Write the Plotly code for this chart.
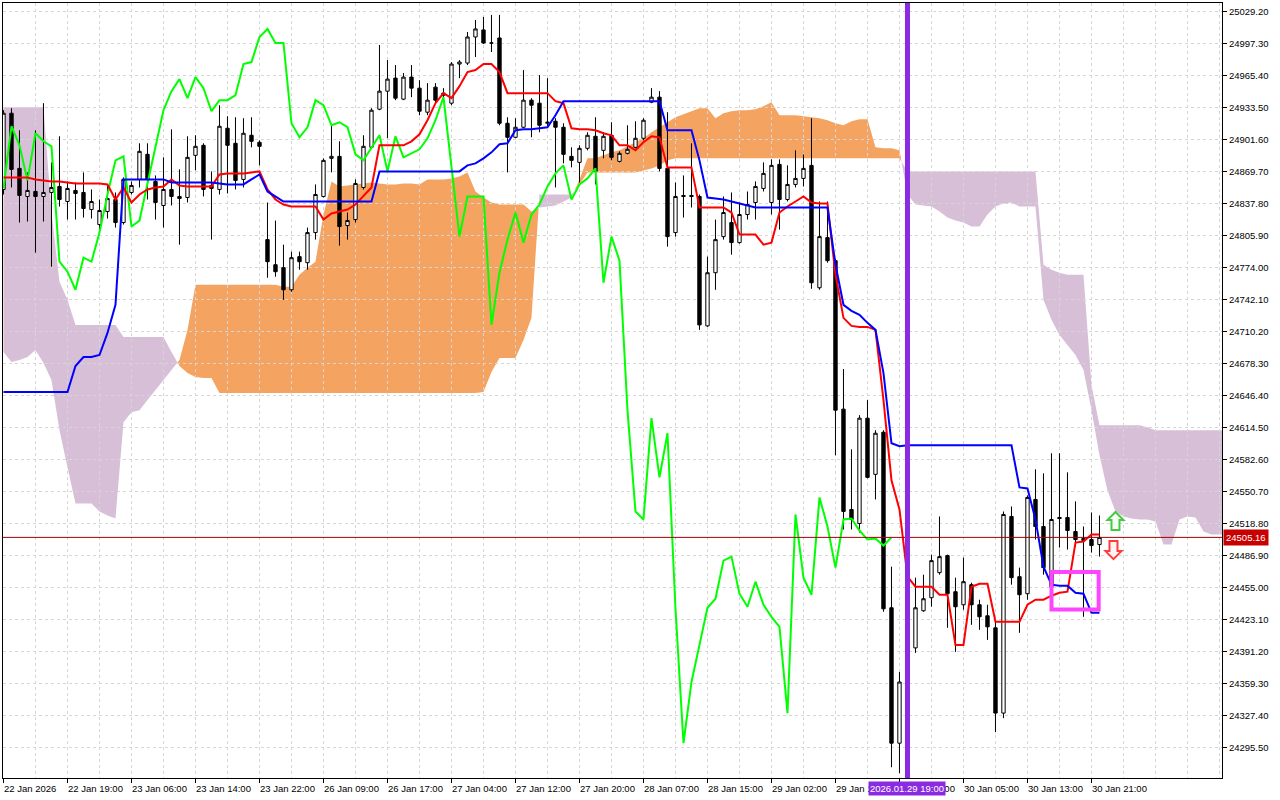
import plotly.graph_objects as go

# ---------------- data (H1 bars, index 0..137) ----------------
open_ = [24852, 24928, 24873, 24845, 24850, 24845, 24849, 24855, 24840, 24851,
         24849, 24832, 24817, 24830, 24842, 24819, 24849, 24862, 24887, 24860,
         24836, 24852, 24845, 24844, 24886, 24896, 24856, 24852, 24913, 24898,
         24862, 24906, 24899, 24802, 24777, 24774, 24752, 24785, 24779, 24809,
         24845, 24883, 24885, 24816, 24822, 24854, 24894, 24932, 24950, 24963,
         24942, 24964, 24953, 24929, 24954, 24948, 24938, 24977, 24978, 25004,
         25011, 24998, 25003, 24918, 24904, 24914, 24941, 24938, 24918, 24920,
         24914, 24885, 24879, 24893, 24905, 24891, 24906, 24880, 24888, 24894,
         24903, 24939, 24944, 24873, 24809, 24846, 24846, 24845, 24716, 24769,
         24805, 24819, 24799, 24827, 24839, 24853, 24839, 24877, 24842, 24857,
         24863, 24876, 24754, 24804, 24781, 24633, 24533, 24519, 24624, 24568,
         24610, 24435, 24300, 24361, 24395, 24432, 24445, 24470, 24487, 24451,
         24438, 24458, 24438, 24427, 24415, 24330, 24526, 24466, 24449, 24543,
         24516, 24456, 24525, 24525, 24511, 24502, 24503, 24498]
high = [24931, 24933, 24911, 24869, 24911, 24938, 24879, 24905, 24860, 24859,
        24869, 24852, 24842, 24856, 24849, 24864, 24860, 24898, 24898, 24866,
        24884, 24912, 24872, 24905, 24906, 24898, 24870, 24936, 24925, 24924,
        24923, 24924, 24901, 24839, 24821, 24797, 24790, 24790, 24814, 24857,
        24883, 24916, 24900, 24829, 24862, 24906, 24933, 24996, 24981, 24976,
        24968, 24976, 24961, 24958, 24958, 24953, 24979, 24981, 25009, 25021,
        25024, 25026, 25026, 24924, 24923, 24971, 24943, 24966, 24963, 24923,
        24918, 24894, 24896, 24909, 24924, 24909, 24919, 24890, 24916, 24920,
        24923, 24953, 24950, 24929, 24859, 24866, 24898, 24847, 24785, 24822,
        24845, 24849, 24839, 24850, 24860, 24879, 24882, 24882, 24876, 24891,
        24887, 24923, 24840, 24840, 24783, 24673, 24593, 24627, 24642, 24612,
        24612, 24476, 24371, 24403, 24465, 24468, 24488, 24526, 24488, 24465,
        24485, 24460, 24443, 24438, 24423, 24531, 24536, 24475, 24547, 24573,
        24569, 24589, 24589, 24570, 24541, 24516, 24530, 24527]
low = [24847, 24854, 24819, 24820, 24789, 24820, 24775, 24835, 24822, 24822,
       24824, 24823, 24812, 24823, 24814, 24817, 24847, 24854, 24842, 24822,
       24814, 24836, 24797, 24839, 24871, 24845, 24802, 24847, 24848, 24852,
       24854, 24894, 24876, 24764, 24765, 24742, 24750, 24772, 24772, 24802,
       24844, 24869, 24796, 24802, 24819, 24852, 24893, 24931, 24903, 24941,
       24941, 24944, 24926, 24926, 24938, 24941, 24936, 24963, 24976, 24984,
       24997, 24989, 24916, 24869, 24903, 24913, 24904, 24909, 24914, 24854,
       24878, 24874, 24859, 24891, 24857, 24883, 24881, 24879, 24887, 24893,
       24901, 24938, 24870, 24795, 24805, 24824, 24834, 24712, 24715, 24752,
       24802, 24787, 24798, 24822, 24822, 24850, 24827, 24812, 24840, 24854,
       24855, 24753, 24752, 24779, 24587, 24513, 24513, 24510, 24564, 24543,
       24431, 24276, 24270, 24353, 24390, 24431, 24436, 24468, 24415, 24391,
       24433, 24418, 24413, 24403, 24311, 24325, 24458, 24410, 24443, 24503,
       24468, 24453, 24495, 24493, 24496, 24426, 24490, 24486]
close = [24928, 24872, 24846, 24851, 24845, 24849, 24854, 24842, 24853, 24848,
         24833, 24840, 24831, 24843, 24819, 24862, 24856, 24890, 24862, 24839,
         24852, 24845, 24843, 24884, 24895, 24852, 24853, 24915, 24896, 24861,
         24908, 24900, 24895, 24780, 24770, 24752, 24784, 24780, 24809, 24847,
         24881, 24885, 24815, 24821, 24858, 24895, 24931, 24950, 24962, 24943,
         24964, 24953, 24930, 24941, 24941, 24946, 24977, 24979, 25004, 25012,
         24998, 24998, 24918, 24904, 24914, 24941, 24936, 24916, 24919, 24914,
         24887, 24881, 24893, 24906, 24870, 24905, 24884, 24888, 24892, 24903,
         24921, 24944, 24873, 24805, 24845, 24845, 24845, 24717, 24769, 24802,
         24829, 24799, 24827, 24837, 24855, 24868, 24876, 24842, 24857, 24863,
         24873, 24759, 24805, 24781, 24632, 24531, 24523, 24624, 24565, 24609,
         24434, 24300, 24361, 24398, 24435, 24444, 24482, 24486, 24449, 24436,
         24461, 24438, 24426, 24416, 24330, 24528, 24465, 24448, 24545, 24516,
         24475, 24523, 24524, 24512, 24503, 24504, 24497, 24505.16]

tenkan = [24864, 24864, 24864, 24864, 24862, 24861, 24860, 24860, 24859, 24858,
          24858, 24858, 24858, 24857, 24842, 24854, 24839, 24847, 24852, 24854,
          24855, 24862, 24856, 24855, 24855, 24855, 24855, 24867, 24868, 24868,
          24868, 24869, 24870, 24852, 24842, 24837, 24835, 24835, 24835, 24835,
          24822, 24828, 24830, 24832, 24837, 24845, 24854, 24896, 24896, 24896,
          24896, 24900, 24907, 24921, 24938, 24948, 24943, 24955, 24969, 24971,
          24977, 24977, 24969, 24948, 24948, 24948, 24948, 24948, 24948, 24940,
          24938, 24913, 24912, 24912, 24911, 24908, 24906, 24896, 24896, 24891,
          24899, 24905, 24904, 24874, 24874, 24874, 24874, 24834, 24834, 24834,
          24834, 24829, 24807, 24807, 24807, 24797, 24799, 24829, 24835, 24840,
          24845, 24839, 24838, 24838, 24767, 24724, 24716, 24715, 24715, 24712,
          24642, 24562, 24533, 24466, 24456, 24456, 24456, 24448, 24448, 24398,
          24398, 24456, 24459, 24459, 24421, 24421, 24421, 24421, 24438, 24443,
          24443, 24447, 24450, 24451, 24500, 24501, 24508, 24508]
kijun = [24650, 24650, 24650, 24650, 24650, 24650, 24650, 24650, 24650, 24676,
         24685, 24685, 24687, 24709, 24737, 24862, 24862, 24862, 24862, 24862,
         24862, 24859, 24859, 24859, 24859, 24859, 24859, 24858, 24857, 24857,
         24857, 24862, 24867, 24850, 24845, 24840, 24840, 24840, 24840, 24840,
         24840, 24840, 24840, 24840, 24840, 24840, 24840, 24870, 24870, 24870,
         24870, 24870, 24870, 24870, 24870, 24870, 24870, 24870, 24876, 24878,
         24883, 24889, 24897, 24898, 24911, 24912, 24912, 24913, 24914, 24926,
         24940, 24940, 24940, 24940, 24940, 24940, 24940, 24940, 24940, 24940,
         24940, 24940, 24940, 24911, 24911, 24911, 24911, 24881, 24844, 24843,
         24842, 24840, 24838, 24836, 24834, 24834, 24834, 24834, 24834, 24834,
         24834, 24834, 24834, 24834, 24777, 24737, 24731, 24727, 24719, 24712,
         24669, 24599, 24596, 24597, 24597, 24597, 24597, 24597, 24597, 24597,
         24597, 24597, 24597, 24597, 24597, 24597, 24597, 24555, 24554, 24523,
         24476, 24458, 24457, 24457, 24450, 24449, 24430, 24430]
# Senkou spans as displayed (already shifted), bar index 0..153
senkou_a = [24690, 24680, 24682, 24685, 24692, 24679, 24662, 24612, 24575, 24539,
            24539, 24539, 24531, 24527, 24524, 24620, 24630, 24632, 24642, 24652,
            24662, 24672, 24682, 24712, 24757, 24757, 24757, 24757, 24757, 24757,
            24757, 24757, 24757, 24757, 24757, 24755, 24755, 24767, 24774, 24780,
            24827, 24860, 24855, 24856, 24857, 24858, 24859, 24858, 24857, 24857,
            24858, 24858, 24857, 24862, 24862, 24862, 24863, 24865, 24869, 24850,
            24844, 24839, 24837, 24837, 24837, 24837, 24830, 24834, 24835, 24836,
            24840, 24844, 24862, 24883, 24883, 24886, 24889, 24891, 24895, 24899,
            24903, 24909, 24914, 24919, 24924, 24927, 24930, 24933, 24933, 24923,
            24928, 24930, 24931, 24931, 24932, 24935, 24939, 24926, 24926, 24926,
            24925, 24924, 24923, 24921, 24918, 24916, 24920, 24922, 24922, 24894,
            24893, 24893, 24891, 24847, 24837, 24836, 24835, 24830, 24824, 24821,
            24819, 24815, 24815, 24827, 24835, 24838, 24839, 24835, 24835, 24835,
            24742, 24722, 24707, 24697, 24687, 24672, 24632, 24587, 24552, 24531,
            24526, 24524, 24523, 24523, 24521, 24498, 24498, 24523, 24526, 24525,
            24511, 24508, 24508, 24508]
senkou_b = [24934, 24934, 24934, 24934, 24934, 24934, 24829, 24760, 24742, 24717,
            24717, 24717, 24717, 24717, 24717, 24705, 24705, 24705, 24705, 24705,
            24705, 24690, 24676, 24669, 24665, 24664, 24664, 24649, 24649, 24649,
            24649, 24649, 24649, 24649, 24649, 24649, 24649, 24649, 24649, 24649,
            24649, 24649, 24649, 24649, 24649, 24649, 24649, 24649, 24649, 24649,
            24649, 24649, 24649, 24649, 24649, 24649, 24649, 24649, 24649, 24649,
            24650, 24670, 24684, 24684, 24684, 24702, 24724, 24847, 24847, 24847,
            24847, 24847, 24857, 24869, 24869, 24869, 24869, 24869, 24869, 24869,
            24871, 24873, 24876, 24881, 24883, 24883, 24883, 24883, 24883, 24883,
            24883, 24883, 24883, 24883, 24883, 24883, 24883, 24883, 24883, 24883,
            24883, 24883, 24883, 24883, 24883, 24883, 24883, 24883, 24883, 24883,
            24883, 24883, 24883, 24870, 24870, 24870, 24870, 24870, 24870, 24870,
            24870, 24870, 24870, 24870, 24870, 24870, 24870, 24870, 24870, 24870,
            24777, 24772, 24769, 24767, 24767, 24767, 24657, 24617, 24617, 24617,
            24617, 24617, 24617, 24615, 24612, 24612, 24612, 24612, 24612, 24612,
            24612, 24612, 24612, 24612]
CHIKOU_SHIFT = 26

time_tick_bars = [0, 8, 16, 24, 32, 40, 48, 56, 64, 72, 80, 88, 96, 104, 112, 120, 128, 136]
time_tick_labels = ["22 Jan 2026", "22 Jan 19:00", "23 Jan 06:00", "23 Jan 14:00", "23 Jan 22:00",
                    "26 Jan 09:00", "26 Jan 17:00", "27 Jan 04:00", "27 Jan 12:00", "27 Jan 20:00",
                    "28 Jan 07:00", "28 Jan 15:00", "29 Jan 02:00", "29 Jan 10:00", "29 Jan 18:00",
                    "30 Jan 05:00", "30 Jan 13:00", "30 Jan 21:00"]
grid_minor_bars = [4, 12, 20, 28, 36, 44, 52, 60, 68, 76, 84, 92, 100, 108, 116, 124, 132, 140, 144, 148, 152]
price_ticks = [24295.50, 24327.40, 24359.30, 24391.20, 24423.10, 24455.00, 24486.90, 24518.80,
               24550.70, 24582.60, 24614.50, 24646.40, 24678.30, 24710.20, 24742.10, 24774.00,
               24805.90, 24837.80, 24869.70, 24901.60, 24933.50, 24965.40, 24997.30, 25029.20]

current_price = 24505.16
vline_bar = 113
vline_label = "2026.01.29 19:00"
box_bars = (131.0, 136.9)
box_prices = (24433.3, 24470.6)
arrow_up = (139.0, 24521.5)
arrow_down = (138.75, 24492.5)

# ---------------- styles ----------------
FONT = "Liberation Sans"
ORANGE = "#F4A460"
THISTLE = "#D8BFD8"
GRID = "#d6d6d6"

bars = list(range(len(close)))
fig = go.Figure()

# Kumo cloud polygons (split at crossovers)
def cloud_polys(a, b):
    polys = []
    cur = None
    top, bot = [], []
    for i in range(len(a)):
        s = a[i] >= b[i]
        if cur is None:
            cur = s
        elif s != cur:
            d0 = a[i - 1] - b[i - 1]
            d1 = a[i] - b[i]
            t = d0 / (d0 - d1)
            xc = i - 1 + t
            yc = a[i - 1] + t * (a[i] - a[i - 1])
            top.append((xc, yc))
            polys.append((cur, top + bot[::-1]))
            cur = s
            top, bot = [(xc, yc)], []
        top.append((i, a[i]))
        bot.append((i, b[i]))
    polys.append((cur, top + bot[::-1]))
    return polys

for bull, pts in cloud_polys(senkou_a, senkou_b):
    path = "M " + " L ".join(f"{x},{y}" for x, y in pts) + " Z"
    fig.add_shape(type="path", path=path, xref="x", yref="y",
                  fillcolor=ORANGE if bull else THISTLE, line=dict(width=0), layer="below")

fig.add_trace(go.Candlestick(
    x=bars, open=open_, high=high, low=low, close=close,
    increasing=dict(line=dict(color="black", width=1), fillcolor="white"),
    decreasing=dict(line=dict(color="black", width=1), fillcolor="black"),
    whiskerwidth=0, hoverinfo="skip", showlegend=False))

fig.add_trace(go.Scatter(x=[i - CHIKOU_SHIFT for i in bars[CHIKOU_SHIFT:]], y=close[CHIKOU_SHIFT:],
                         mode="lines", line=dict(color="#00FF00", width=2), hoverinfo="skip"))
fig.add_trace(go.Scatter(x=bars, y=tenkan, mode="lines", line=dict(color="#FF0000", width=2), hoverinfo="skip"))
fig.add_trace(go.Scatter(x=bars, y=kijun, mode="lines", line=dict(color="#0000FF", width=2), hoverinfo="skip"))

# current price line
fig.add_shape(type="line", xref="paper", x0=0, x1=1, yref="y", y0=current_price, y1=current_price,
              line=dict(color="#A00000", width=1), layer="above")
# vertical event line
fig.add_shape(type="line", xref="x", x0=vline_bar, x1=vline_bar, yref="paper", y0=0, y1=1,
              line=dict(color="#8A2BE2", width=5), layer="above")
# magenta box
fig.add_shape(type="rect", xref="x", yref="y", x0=box_bars[0], x1=box_bars[1],
              y0=box_prices[0], y1=box_prices[1], line=dict(color="#FF44FF", width=4),
              fillcolor="rgba(0,0,0,0)", layer="above")
# hollow arrow markers (pixel-sized, anchored at data point)
UP_ARROW = "M 0,9 L 8,1 L 4,1 L 4,-9 L -4,-9 L -4,1 L -8,1 Z"
DOWN_ARROW = "M 0,-9 L 8,-1 L 4,-1 L 4,9 L -4,9 L -4,-1 L -8,-1 Z"
fig.add_shape(type="path", xref="x", yref="y", xsizemode="pixel", ysizemode="pixel",
              xanchor=arrow_up[0], yanchor=arrow_up[1], path=UP_ARROW,
              line=dict(color="#46C846", width=2), fillcolor="#F4FFF4", layer="above")
fig.add_shape(type="path", xref="x", yref="y", xsizemode="pixel", ysizemode="pixel",
              xanchor=arrow_down[0], yanchor=arrow_down[1], path=DOWN_ARROW,
              line=dict(color="#FF3C3C", width=2), fillcolor="#FFF4F4", layer="above")

annotations = []
for b, t in zip(time_tick_bars, time_tick_labels):
    annotations.append(dict(x=b, y=0, xref="x", yref="paper", text=t, showarrow=False,
                            xanchor="left", yanchor="top", yshift=-3, xshift=-1,
                            font=dict(family=FONT, size=9.5, color="black")))
annotations.append(dict(x=vline_bar, y=0, xref="x", yref="paper", text=vline_label, showarrow=False,
                        xanchor="center", yanchor="top", yshift=-3, bgcolor="#8A2BE2", borderpad=1,
                        font=dict(family=FONT, size=9.5, color="white")))
annotations.append(dict(x=1, y=current_price, xref="paper", yref="y", text=f"{current_price:.2f}",
                        showarrow=False, xanchor="left", yanchor="middle", xshift=1,
                        bgcolor="#C80000", borderpad=2, font=dict(family=FONT, size=9.5, color="white")))

fig.update_layout(
    width=1280, height=800,
    margin=dict(l=3, r=58, t=3, b=22),
    paper_bgcolor="white", plot_bgcolor="white",
    showlegend=False, boxmode="overlay", boxgap=0.4,
    annotations=annotations,
    xaxis=dict(range=[-0.06, 152.315], tickmode="array", tickvals=time_tick_bars,
               showticklabels=False, ticks="outside", ticklen=4, tickcolor="black",
               showgrid=True, gridcolor=GRID, griddash="3px,3px", gridwidth=1,
               minor=dict(tickvals=grid_minor_bars, showgrid=True, gridcolor=GRID,
                          griddash="3px,3px", ticks=""),
               showline=True, linecolor="black", linewidth=1, mirror=True, zeroline=False,
               rangeslider=dict(visible=False), fixedrange=True),
    yaxis=dict(range=[24265.3, 25037.87], side="right", tickmode="array", tickvals=price_ticks,
               ticktext=[f"{v:.2f}" for v in price_ticks], ticks="outside", ticklen=4,
               tickcolor="black", showgrid=True, gridcolor=GRID, griddash="3px,3px", gridwidth=1,
               showline=True, linecolor="black", linewidth=1, mirror=True, zeroline=False,
               tickfont=dict(family=FONT, size=9.5, color="black"), fixedrange=True),
)

fig.write_html("out.html", config={"displayModeBar": False},
               post_script="document.body.style.margin='0px';document.body.style.overflow='hidden';")
